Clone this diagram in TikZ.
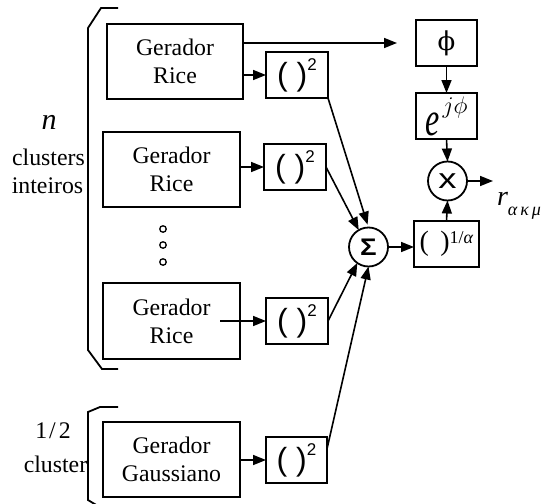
\documentclass[tikz,border=0pt]{standalone}
\usepackage{fix-cm}
\usepackage{fontspec}
\setmainfont{Liberation Serif}
\newfontfamily\arialfont{Liberation Sans}
\newfontfamily\phifont{DejaVu Serif}
\usetikzlibrary{arrows.meta}

% font sizes used in the block diagram
\newcommand\genfont{\fontsize{23.8}{28}\selectfont}
\newcommand\sqtext{{\arialfont\fontsize{32}{32}\selectfont( )\raisebox{15pt}{\fontsize{17}{17}\selectfont 2}}}

\begin{document}
\begin{tikzpicture}[x=1pt,y=-1pt,
  every node/.style={inner sep=0pt,outer sep=0pt},
  genbox/.style={draw,line width=1.8pt,minimum width=137pt,minimum height=75pt,
                 align=center,font=\genfont},
  sqbox/.style={draw,line width=1.8pt,minimum width=62pt,minimum height=46pt},
  opcirc/.style={draw,circle,line width=1.8pt,minimum size=39pt},
  lbl/.style={anchor=base,font=\genfont},
  wire/.style={line width=1.6pt},
  conn/.style={wire,-{Triangle[length=13pt,width=10pt]}},
  brace/.style={line width=1.8pt,line join=miter}]
\useasboundingbox (0,0) rectangle (556,503);

% generators
\node[genbox,minimum width=136pt] (r1) at (175,61.5) {Gerador\\Rice};
\node[genbox] (r2) at (171.5,169.5) {Gerador\\Rice};
\node[genbox,minimum height=76pt] (r3) at (171.5,321) {Gerador\\Rice};
\node[genbox] (g) at (171.5,459.5) {Gerador\\Gaussiano};

% continuation dots
\foreach \yy/\nm in {229/d1,245/d2,262/d3}
  \node[draw,circle,line width=1.3pt,minimum size=6.5pt] (\nm) at (163,\yy) {};

% squaring blocks
\node[sqbox] (s1) at (297,75) {\sqtext};
\node[sqbox] (s2) at (295,167) {\sqtext};
\node[sqbox] (s3) at (297,321) {\sqtext};
\node[sqbox,minimum width=61pt] (s4) at (296.5,460) {\sqtext};

% phase branch
\node[sqbox,minimum width=61pt] (phi) at (446.5,43)
  {\phifont\fontsize{26}{26}\selectfont ϕ};
\node[sqbox,minimum width=61pt] (ej) at (446.5,116)
  {\scalebox{1}[1.5]{\fontsize{32}{32}\selectfont\itshape e}\hspace{3pt}\raisebox{22pt}{\fontsize{24}{24}\selectfont$j\phi$}};

% sum, root and product
\node[opcirc] (sig) at (368.5,247)
  {\arialfont\bfseries\fontsize{24}{24}\selectfont\scalebox{1.15}[1]{Σ}};
\node[sqbox,minimum width=65pt] (pw) at (446.5,244)
  {\fontsize{28}{30}\selectfont(\hspace{11.4pt})\raisebox{7pt}{\fontsize{18}{18}\selectfont 1/\textit{α}}\hspace{6pt}};
\node[opcirc] (mul) at (447.5,181)
  {\arialfont\fontsize{28}{28}\selectfont\scalebox{1.3}[1]{x}};

% output
\coordinate (out) at (493,181);
\node[anchor=base west] (rout) at (497,205)
  {\fontsize{28}{28}\selectfont\itshape r\raisebox{-10pt}{\fontsize{18}{18}\selectfont α\kern3pt κ\kern3pt μ}};

% side labels
\node[lbl,font=\fontsize{30}{30}\selectfont\itshape] (nl) at (49,129) {n};
\node[lbl] (cl) at (48.5,165) {clusters};
\node[lbl] (il) at (47.5,193) {inteiros};
\node[lbl] (hl) at (53,438) {1\kern2pt/\kern3pt2};
\node[lbl] (cl2) at (55.5,472) {cluster};

% braces
\draw[brace] (118,8) -- (101,8) -- (88,28) -- (88,350) -- (102,369) -- (118,369);
\draw[brace] (118,407) -- (100,407) -- (88,412) -- (88,500) -- (98,506);

% connectors
\draw[conn,shorten >=19pt] (r1.east |- phi.west) -- (phi.west);
\draw[conn] (r1.east |- s1.west) -- (s1.west);
\draw[conn] (r2.east |- s2.west) -- (s2.west);
\draw[conn] ([xshift=-20pt]r3.east |- s3.west) -- (s3.west);
\draw[conn] (g.east |- s4.west) -- (s4.west);

\draw[conn,shorten >=3pt] (s1.south east) -- (sig.north);
\draw[conn] (s2.east) -- (sig.120);
\draw[conn] (s3.east) -- (sig.235);
\draw[conn] (s4.20) -- (sig.south);

\draw[conn] (sig.east) -- (sig.east -| pw.west);
\draw[conn] (phi.south) -- (ej.north);
\draw[conn] (ej.south) -- (mul.north);
\draw[conn] (pw.north) -- (mul.south);
\draw[conn] (mul.east) -- (out);
\end{tikzpicture}
\end{document}
